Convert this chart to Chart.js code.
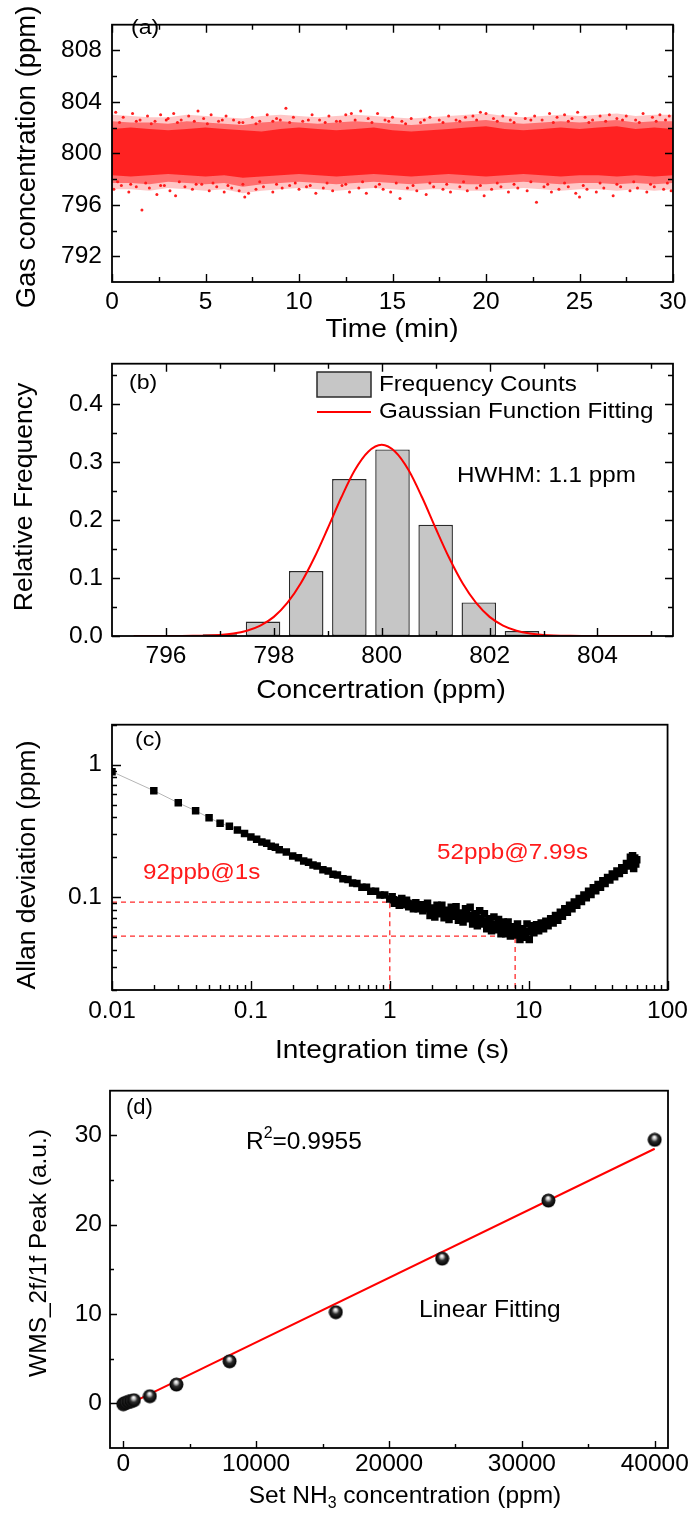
<!DOCTYPE html>
<html><head><meta charset="utf-8">
<script src="https://cdn.jsdelivr.net/npm/chart.js@4.4.1/dist/chart.umd.min.js"></script>
<style>
html,body{margin:0;padding:0;background:#fff;}
body{width:695px;height:1517px;position:relative;overflow:hidden;}
canvas{position:absolute;left:0;}
#err{position:absolute;left:0;top:0;color:#00f;font:12px monospace;z-index:9;}
</style></head><body>
<canvas id="ca" width="695" height="345" style="top:0px"></canvas>
<canvas id="cb" width="695" height="365" style="top:340px"></canvas>
<canvas id="cc" width="695" height="370" style="top:700px"></canvas>
<canvas id="cd" width="695" height="449" style="top:1068px"></canvas>
<div id="err"></div>
<script>
// ---------------- Panel (a): concentration vs time ----------------
const timeGrid = [0,1,2,3,4,5,6,7,8,9,10,11,12,13,14,15,16,17,18,19,20,21,22,23,24,25,26,27,28,29,30];
const coreUpper = [801.9,802.0,801.9,801.8,801.9,802.0,801.9,801.8,801.7,801.9,802.0,801.9,801.8,801.9,802.0,801.8,801.7,801.8,801.9,802.0,802.1,801.9,801.8,801.9,802.0,801.9,802.0,802.1,801.9,802.0,801.9];
const coreLower = [798.3,798.2,798.3,798.4,798.3,798.2,798.3,798.1,798.2,798.3,798.4,798.3,798.2,798.3,798.4,798.3,798.2,798.3,798.4,798.3,798.2,798.3,798.4,798.3,798.2,798.3,798.3,798.2,798.3,798.2,798.3];
const spreadUpper = [802.5,802.4,802.4,802.3,802.5,802.4,802.3,802.2,802.4,802.5,802.4,802.3,802.4,802.5,802.4,802.3,802.2,802.3,802.4,802.5,802.6,802.4,802.3,802.4,802.5,802.4,802.5,802.6,802.4,802.5,802.5];
const spreadLower = [797.7,797.7,797.6,797.8,797.7,797.6,797.7,797.4,797.6,797.7,797.8,797.7,797.6,797.7,797.8,797.7,797.6,797.7,797.7,797.6,797.6,797.7,797.8,797.7,797.6,797.7,797.7,797.6,797.7,797.6,797.7];
const outerUpper = [803.0,802.9,802.8,802.8,803.0,802.9,802.8,802.7,802.9,803.0,802.9,802.8,802.9,803.0,802.9,802.8,802.7,802.8,802.9,803.0,803.1,802.9,802.8,802.9,803.0,802.9,803.0,803.1,802.9,803.0,803.0];
const outerLower = [797.2,797.2,797.1,797.3,797.2,797.1,797.2,796.9,797.1,797.2,797.3,797.2,797.1,797.2,797.3,797.2,797.1,797.2,797.2,797.1,797.1,797.2,797.3,797.2,797.1,797.2,797.2,797.1,797.2,797.1,797.2];
const outlierPts = [
 [0.2,803.2],[0.6,802.8],[1.1,803.1],[1.5,802.6],[1.9,802.9],[2.3,802.5],[2.6,803.0],[3.0,802.7],[3.3,803.1],[3.7,802.6],
 [4.1,802.9],[4.6,803.3],[4.9,802.7],[5.3,803.0],[5.7,802.5],[6.1,802.9],[6.5,802.6],[7.0,802.4],[7.5,802.8],[7.9,802.5],
 [8.3,803.0],[8.8,802.7],[9.0,802.6],[9.3,803.5],[9.7,802.8],[10.2,802.5],[10.7,803.0],[11.1,802.6],[11.6,802.9],[12.0,802.5],
 [12.5,803.0],[12.8,803.1],[13.3,803.3],[13.7,802.7],[14.2,803.1],[14.6,802.6],[15.0,802.8],[15.5,802.5],[16.0,802.7],[16.5,802.4],
 [17.0,802.8],[17.5,802.6],[18.0,802.9],[18.4,802.6],[18.9,802.8],[19.3,802.9],[19.7,803.2],[20.0,803.1],[20.4,802.7],[20.9,802.9],
 [21.3,802.6],[21.6,803.1],[22.1,802.7],[22.6,802.9],[23.0,802.6],[23.4,803.1],[23.8,802.8],[24.2,803.0],[24.6,802.7],[24.9,803.2],
 [25.3,802.8],[25.7,802.6],[26.1,802.9],[26.6,803.0],[27.0,802.7],[27.5,802.9],[28.0,802.6],[28.4,803.1],[28.9,802.8],[29.3,803.0],[29.8,802.9],
 [0.1,797.2],[0.5,797.5],[0.9,797.0],[1.3,797.4],[1.6,795.6],[2.0,797.3],[2.4,796.8],[2.8,797.5],[3.1,797.1],[3.4,796.7],
 [3.9,797.4],[4.3,797.2],[4.8,797.6],[5.2,797.1],[5.6,797.4],[6.0,797.0],[6.4,797.3],[6.8,797.1],[7.1,796.6],[7.3,796.9],
 [7.7,797.2],[8.1,797.4],[8.6,797.0],[9.1,797.3],[9.5,797.5],[10.0,797.2],[10.4,797.4],[10.9,796.9],[11.3,797.3],[11.8,797.1],
 [12.3,797.5],[12.7,797.0],[13.2,797.3],[13.6,796.9],[14.1,797.4],[14.5,797.2],[14.9,797.0],[15.4,796.5],[15.8,797.3],[16.3,797.1],
 [16.8,796.8],[17.2,797.4],[17.7,797.2],[18.1,797.0],[18.6,797.4],[19.0,797.1],[19.5,797.3],[19.9,796.7],[20.3,797.2],[20.8,797.4],
 [21.2,797.0],[21.7,797.3],[22.2,797.1],[22.7,796.2],[23.1,797.4],[23.5,797.0],[23.9,797.2],[24.4,797.4],[24.8,796.9],[25.0,796.6],
 [25.4,797.2],[25.9,797.0],[26.3,797.3],[26.8,796.7],[27.2,797.4],[27.7,797.1],[28.1,797.3],[28.6,797.0],[29.0,797.4],[29.5,797.2],[29.9,797.1]
];
const speckPts = [
 [0.4,802.4],[1.3,802.5],[2.1,802.3],[2.9,802.6],[3.5,802.4],[4.4,802.5],[5.1,802.3],[5.9,802.6],[6.8,802.4],[7.7,802.3],
 [8.6,802.5],[9.5,802.4],[10.5,802.6],[11.4,802.4],[12.2,802.5],[13.0,802.6],[13.9,802.4],[14.8,802.5],[15.7,802.3],[16.7,802.6],
 [17.7,802.4],[18.6,802.5],[19.5,802.6],[20.6,802.5],[21.5,802.4],[22.4,802.6],[23.6,802.4],[24.4,802.5],[25.5,802.4],[26.4,802.5],
 [27.3,802.6],[28.2,802.4],[29.1,802.5],[29.6,802.6],
 [0.3,797.8],[1.0,797.6],[1.8,797.7],[2.6,797.5],[3.6,797.8],[4.5,797.6],[5.4,797.7],[6.2,797.5],[7.0,797.6],[7.9,797.8],
 [8.8,797.6],[9.8,797.7],[10.6,797.5],[11.5,797.7],[12.5,797.6],[13.4,797.8],[14.3,797.6],[15.2,797.7],[16.1,797.5],[17.0,797.7],
 [17.9,797.6],[18.8,797.8],[19.7,797.5],[20.6,797.7],[21.5,797.6],[22.4,797.8],[23.3,797.6],[24.2,797.7],[25.2,797.5],[26.1,797.7],
 [27.0,797.6],[27.9,797.8],[28.8,797.6],[29.7,797.7]
];
const aXTicks = [0,5,10,15,20,25,30];
const aXMinor = [2.5,7.5,12.5,17.5,22.5,27.5];
const aYTicks = [792,796,800,804,808];
const aYMinor = [794,798,802,806];

// ---------------- Panel (b): histogram ----------------
const binCenters = [797.0,797.8,798.6,799.4,800.2,801.0,801.8,802.6];
const relFreq    = [0.003,0.025,0.112,0.271,0.322,0.192,0.058,0.0085];
const gaussX = [795.4,796.0,796.5,797.0,797.25,797.5,797.75,798.0,798.25,798.5,798.75,799.0,799.25,799.5,799.75,800.0,800.25,800.5,800.75,801.0,801.25,801.5,801.75,802.0,802.25,802.5,802.75,803.0,803.5,804.0,804.5,805.0];
const gaussY = [0,0,0.0003,0.0019,0.0043,0.0092,0.018,0.033,0.057,0.091,0.135,0.186,0.239,0.286,0.318,0.330,0.318,0.286,0.239,0.186,0.135,0.091,0.057,0.033,0.018,0.0092,0.0043,0.0019,0.0003,0,0,0];
const bXTicks = [796,798,800,802,804];
const bXMinor = [797,799,801,803,805];
const bYTicks = [0,0.1,0.2,0.3,0.4];
const bYMinor = [0.05,0.15,0.25,0.35,0.45];

// ---------------- Panel (c): Allan deviation ----------------
const allanPts = [
 [0.01,0.885],[0.02,0.636],[0.03,0.515],[0.04,0.449],[0.05,0.398],[0.06,0.362],[0.07,0.343],[0.08,0.322],[0.09,0.302],
 [0.10,0.285],[0.11,0.274],[0.12,0.261],[0.13,0.255],[0.14,0.243],[0.15,0.238],[0.16,0.228],[0.18,0.219],[0.20,0.205],[0.22,0.199],
 [0.24,0.188],[0.26,0.184],[0.28,0.175],[0.30,0.172],[0.33,0.161],[0.36,0.158],[0.39,0.149],[0.42,0.147],[0.46,0.138],[0.50,0.136],
 [0.54,0.128],[0.58,0.127],[0.63,0.119],[0.68,0.119],[0.73,0.111],[0.79,0.111],[0.85,0.104],[0.92,0.104],[1.00,0.097],
 [1.04,0.101],[1.06,0.096],[1.08,0.090],[1.10,0.095],[1.12,0.094],[1.15,0.091],[1.17,0.087],[1.20,0.093],[1.22,0.098],[1.25,0.092],
 [1.27,0.088],[1.30,0.091],[1.32,0.095],[1.35,0.090],[1.37,0.085],[1.40,0.089],[1.42,0.088],[1.45,0.086],[1.48,0.082],[1.51,0.087],
 [1.54,0.091],[1.57,0.086],[1.60,0.082],[1.63,0.085],[1.67,0.088],[1.70,0.083],[1.73,0.079],[1.76,0.084],[1.80,0.083],[1.83,0.086],
 [1.87,0.090],[1.91,0.082],[1.95,0.073],[1.99,0.080],[2.03,0.083],[2.07,0.079],[2.11,0.071],[2.15,0.081],[2.19,0.087],[2.23,0.078],
 [2.28,0.075],[2.32,0.080],[2.37,0.087],[2.41,0.077],[2.46,0.070],[2.51,0.078],[2.56,0.080],[2.62,0.075],[2.67,0.068],[2.72,0.077],
 [2.77,0.084],[2.82,0.074],[2.88,0.072],[2.94,0.077],[3.00,0.085],[3.06,0.074],[3.12,0.067],[3.18,0.073],[3.24,0.076],[3.30,0.075],
 [3.37,0.065],[3.44,0.072],[3.51,0.082],[3.58,0.074],[3.65,0.069],[3.72,0.071],[3.79,0.084],[3.87,0.073],[3.95,0.063],[4.02,0.069],
 [4.10,0.075],[4.18,0.070],[4.27,0.061],[4.35,0.068],[4.44,0.079],[4.53,0.069],[4.62,0.063],[4.71,0.066],[4.80,0.075],[4.89,0.066],
 [4.99,0.058],[5.09,0.064],[5.19,0.069],[5.29,0.063],[5.40,0.056],[5.51,0.062],[5.62,0.071],[5.73,0.062],[5.84,0.057],[5.95,0.061],
 [6.07,0.068],[6.19,0.060],[6.32,0.053],[6.44,0.059],[6.57,0.065],[6.70,0.058],[6.83,0.053],[6.97,0.058],[7.11,0.065],[7.25,0.057],
 [7.39,0.051],[7.54,0.056],[7.69,0.060],[7.84,0.056],[7.99,0.052],[8.15,0.056],[8.31,0.063],[8.48,0.055],[8.65,0.048],[8.82,0.054],
 [9.00,0.058],[9.18,0.055],[9.36,0.050],[9.54,0.054],[9.73,0.063],[9.92,0.055],[10.1,0.048],
 [10.5,0.061],[10.9,0.054],[11.4,0.062],[11.8,0.056],[12.3,0.064],[12.8,0.058],[13.3,0.066],[13.8,0.061],[14.4,0.069],[15.0,0.064],
 [15.6,0.073],[16.2,0.067],[16.9,0.077],[17.5,0.072],[18.2,0.082],[19.0,0.077],[19.7,0.087],[20.5,0.082],[21.3,0.092],[22.2,0.087],
 [23.1,0.098],[24.0,0.093],[25.0,0.104],[26.0,0.099],[27.0,0.111],[28.1,0.105],[29.2,0.118],[30.4,0.112],[31.6,0.125],[32.9,0.119],
 [34.2,0.133],[35.5,0.127],[37.0,0.141],[38.4,0.135],[40.0,0.150],[41.6,0.143],[43.2,0.158],[45.0,0.151],[46.8,0.167],[48.6,0.160],
 [50.6,0.180],[52.6,0.172],[54.0,0.200],[55.0,0.188],[56.0,0.206],[57.0,0.165],[58.0,0.198],[59.0,0.178],[60.0,0.192]
];
const mark1 = {tau: 1, dev: 0.092};
const mark2 = {tau: 7.99, dev: 0.051};
const cXTicks = [0.01,0.1,1,10,100];
const cYTicks = [0.1,1];
const cXMinor = [0.02,0.03,0.04,0.05,0.06,0.07,0.08,0.09,0.2,0.3,0.4,0.5,0.6,0.7,0.8,0.9,2,3,4,5,6,7,8,9,20,30,40,50,60,70,80,90];
const cYMinor = [0.02,0.03,0.04,0.05,0.06,0.07,0.08,0.09,0.2,0.3,0.4,0.5,0.6,0.7,0.8,0.9,2];

// ---------------- Panel (d): calibration ----------------
const setConc  = [0,100,200,400,600,800,2000,4000,8000,16000,24000,32000,40000];
const peakWMS  = [-0.1,0.0,0.05,0.15,0.25,0.35,0.8,2.1,4.7,10.2,16.2,22.7,29.5];
const fitConc  = [0,40000];
const fitPeak  = [-0.4,28.5];
const dXTicks = [0,10000,20000,30000,40000];
const dXMinor = [5000,15000,25000,35000];
const dYTicks = [0,10,20,30];
const dYMinor = [5,15,25];

// ---------------- helpers ----------------
const FONT = '"Liberation Sans", Arial, Helvetica, sans-serif';
const pts = (xs, ys) => xs.map((x, i) => ({x: x, y: ys[i]}));
const pairPts = arr => arr.map(p => ({x: p[0], y: p[1]}));

function report(e) { document.getElementById('err').textContent += ' ' + (e && e.message ? e.message : e); }

function axis(type, min, max, labels, fmt, size, pad, boxSize, horizontal) {
  return {
    type: type, min: min, max: max, bounds: 'data', offset: false,
    grid: {display: false, drawTicks: false},
    border: {display: false},
    ticks: {autoSkip: false, maxRotation: 0, minRotation: 0, padding: pad, color: '#000',
      font: {family: FONT, size: size}, callback: fmt},
    afterBuildTicks: function (s) { s.ticks = labels.map(v => ({value: v})); },
    afterFit: function (s) { if (horizontal) { s.height = boxSize; } else { s.width = boxSize; } }
  };
}

function drawFrame(chart, fr) {
  const ctx = chart.ctx;
  const a = chart.chartArea;
  ctx.save();
  ctx.strokeStyle = '#000';
  ctx.lineWidth = 1.4;
  for (const spec of fr.specs) {
    const s = chart.scales[spec.axis];
    const lo = Math.min(s.min, s.max);
    const hi = Math.max(s.min, s.max);
    const groups = [[spec.major, fr.majorLen], [spec.minor, fr.minorLen]];
    for (const g of groups) {
      const vals = g[0], len = g[1];
      ctx.beginPath();
      for (const v of vals) {
        if (v < lo || v > hi) continue;
        const p = Math.round(s.getPixelForValue(v)) + 0.5;
        for (const side of spec.sides) {
          if (side === 'bottom') { ctx.moveTo(p, a.bottom); ctx.lineTo(p, a.bottom - len); }
          if (side === 'top') { ctx.moveTo(p, a.top); ctx.lineTo(p, a.top + len); }
          if (side === 'left') { ctx.moveTo(a.left, p); ctx.lineTo(a.left + len, p); }
          if (side === 'right') { ctx.moveTo(a.right, p); ctx.lineTo(a.right - len, p); }
        }
      }
      ctx.stroke();
    }
  }
  ctx.lineWidth = 1.8;
  ctx.strokeRect(a.left, a.top, a.right - a.left, a.bottom - a.top);
  ctx.restore();
}

function drawRich(ctx, t) {
  const segs = t.segs || [{s: t.text}];
  ctx.save();
  ctx.translate(t.x, t.y);
  if (t.rot) ctx.rotate(t.rot);
  ctx.scale(t.sx || 1, 1);
  ctx.fillStyle = t.color || '#000';
  ctx.textBaseline = 'middle';
  ctx.textAlign = 'left';
  const fontOf = sg => ((sg.sub || sg.sup) ? t.size * 0.65 : t.size) + 'px ' + FONT;
  let total = 0;
  const ws = segs.map(sg => { ctx.font = fontOf(sg); const w = ctx.measureText(sg.s).width; total += w; return w; });
  let x = t.align === 'center' ? -total / 2 : 0;
  segs.forEach((sg, i) => {
    ctx.font = fontOf(sg);
    const dy = sg.sup ? -t.size * 0.33 : (sg.sub ? t.size * 0.32 : 0);
    ctx.fillText(sg.s, x, dy);
    x += ws[i];
  });
  ctx.restore();
}

function decorPlugin(fr, items, extra) {
  return {
    id: 'decor',
    afterDraw: function (chart) {
      try {
        drawFrame(chart, fr);
        if (extra) extra(chart.ctx);
        items.forEach(t => drawRich(chart.ctx, t));
      } catch (e) { report(e); }
    }
  };
}

const base = (padding) => ({
  responsive: false, animation: false, devicePixelRatio: 1, events: [],
  layout: {padding: padding},
  plugins: {legend: {display: false}, tooltip: {enabled: false}}
});

const TICK = 24.5;
const V = -Math.PI / 2;
const clear = 'rgba(0,0,0,0)';

try {
// ---------------- Chart (a) ----------------
new Chart(document.getElementById('ca'), {
  type: 'line',
  data: {datasets: [
    {data: pts(timeGrid, outerUpper), borderColor: clear, pointRadius: 0, fill: '+1', backgroundColor: 'rgba(255,40,40,0.26)'},
    {data: pts(timeGrid, outerLower), borderColor: clear, pointRadius: 0, fill: false},
    {data: pts(timeGrid, spreadUpper), borderColor: clear, pointRadius: 0, fill: '+1', backgroundColor: 'rgba(255,35,35,0.55)'},
    {data: pts(timeGrid, spreadLower), borderColor: clear, pointRadius: 0, fill: false},
    {data: pts(timeGrid, coreUpper), borderColor: clear, pointRadius: 0, fill: '+1', backgroundColor: '#ff2020'},
    {data: pts(timeGrid, coreLower), borderColor: clear, pointRadius: 0, fill: false},
    {data: pairPts(speckPts), showLine: false, pointRadius: 1.5, pointBackgroundColor: '#ff1010', pointBorderWidth: 0},
    {data: pairPts(outlierPts), showLine: false, pointRadius: 1.5, pointBackgroundColor: '#ff2020', pointBorderWidth: 0}
  ]},
  options: Object.assign(base({top: 5, right: 22, left: 0, bottom: 0}), {
    scales: {
      x: axis('linear', 0, 30, aXTicks, v => String(v), TICK, 6, 63, true),
      y: axis('linear', 790, 810, aYTicks, v => String(v), TICK, 10, 112, false)
    }
  }),
  plugins: [decorPlugin({majorLen: 8, minorLen: 5, specs: [
      {axis: 'x', sides: ['bottom', 'top'], major: aXTicks, minor: aXMinor},
      {axis: 'y', sides: ['left', 'right'], major: aYTicks, minor: aYMinor}]},
    [
      {text: '(a)', x: 131, y: 28, size: 21, sx: 1.1},
      {text: 'Time (min)', x: 392, y: 330, size: 26, sx: 1.08, align: 'center'},
      {text: 'Gas concentration (ppm)', x: 27, y: 157, size: 27.5, rot: V, align: 'center'}
    ])]
});

// ---------------- Chart (b) ----------------
new Chart(document.getElementById('cb'), {
  type: 'bar',
  data: {datasets: [
    {type: 'line', data: pts(gaussX, gaussY), borderColor: '#ff0000', borderWidth: 2, pointRadius: 0, cubicInterpolationMode: 'monotone', fill: false, order: 0},
    {type: 'bar', data: pts(binCenters, relFreq), backgroundColor: '#c6c6c6', borderColor: '#2a2a2a', borderWidth: 1.4, borderSkipped: false, categoryPercentage: 1, barPercentage: 0.8, order: 1}
  ]},
  options: Object.assign(base({top: 20, right: 22, left: 0, bottom: 0}), {
    scales: {
      x: axis('linear', 795, 805.4, bXTicks, v => String(v), TICK, 6, 69, true),
      y: axis('linear', 0, 0.47, bYTicks, v => v.toFixed(1), TICK, 9, 112, false)
    }
  }),
  plugins: [decorPlugin({majorLen: 8, minorLen: 5, specs: [
      {axis: 'x', sides: ['bottom', 'top'], major: bXTicks, minor: bXMinor},
      {axis: 'y', sides: ['left', 'right'], major: bYTicks, minor: bYMinor}]},
    [
      {text: '(b)', x: 129, y: 43, size: 21, sx: 1.1},
      {text: 'Frequency Counts', x: 379, y: 45, size: 22, sx: 1.1},
      {text: 'Gaussian Function Fitting', x: 379, y: 72, size: 22, sx: 1.1},
      {text: 'HWHM: 1.1 ppm', x: 457, y: 136, size: 22, sx: 1.1},
      {text: 'Concertration (ppm)', x: 381, y: 351, size: 26, sx: 1.08, align: 'center'},
      {text: 'Relative Frequency', x: 25, y: 157, size: 26.5, rot: V, align: 'center'}
    ], ctx => {
      ctx.save();
      ctx.fillStyle = '#c6c6c6'; ctx.fillRect(317, 32, 54, 25);
      ctx.strokeStyle = '#2a2a2a'; ctx.lineWidth = 1.5; ctx.strokeRect(317, 32, 54, 25);
      ctx.strokeStyle = '#ff0000'; ctx.lineWidth = 2;
      ctx.beginPath(); ctx.moveTo(317, 72); ctx.lineTo(371, 72); ctx.stroke();
      ctx.restore();
    })]
});

// ---------------- Chart (c) ----------------
new Chart(document.getElementById('cc'), {
  type: 'line',
  data: {datasets: [
    {data: pairPts(allanPts), borderColor: '#b5b5b5', borderWidth: 1, pointStyle: 'rect', pointRadius: 5.3,
     pointBackgroundColor: '#000', pointBorderWidth: 0, order: 0},
    {data: pairPts([[0.01, mark1.dev], [mark1.tau, mark1.dev], [mark1.tau, 0.02]]), borderColor: '#ff2a2a', borderWidth: 1.3, borderDash: [5, 4], pointRadius: 0, order: 1},
    {data: pairPts([[0.01, mark2.dev], [mark2.tau, mark2.dev], [mark2.tau, 0.02]]), borderColor: '#ff2a2a', borderWidth: 1.3, borderDash: [5, 4], pointRadius: 0, order: 1}
  ]},
  options: Object.assign(base({top: 14, right: 22, left: 0, bottom: 0}), {
    scales: {
      x: axis('logarithmic', 0.01, 100, cXTicks, v => String(v), TICK, 7, 80, true),
      y: axis('logarithmic', 0.02, 2, cYTicks, v => String(v), TICK, 10, 112, false)
    }
  }),
  plugins: [decorPlugin({majorLen: 9, minorLen: 5, specs: [
      {axis: 'x', sides: ['bottom'], major: cXTicks, minor: cXMinor},
      {axis: 'y', sides: ['left'], major: cYTicks, minor: cYMinor}]},
    [
      {text: '(c)', x: 135, y: 40, size: 21, sx: 1.1},
      {text: '92ppb@1s', x: 143, y: 173, size: 22, sx: 1.1, color: '#ff1a1a'},
      {text: '52ppb@7.99s', x: 437, y: 153, size: 22, sx: 1.1, color: '#ff1a1a'},
      {text: 'Integration time (s)', x: 392, y: 351, size: 26, sx: 1.08, align: 'center'},
      {text: 'Allan deviation (ppm)', x: 28, y: 165, size: 26.5, rot: V, align: 'center'}
    ])]
});

// ---------------- Chart (d) ----------------
function makeSphere(d) {
  const c = document.createElement('canvas'); c.width = d; c.height = d;
  const g = c.getContext('2d');
  const r = d / 2;
  const grad = g.createRadialGradient(r * 0.95, r * 0.62, r * 0.05, r, r, r);
  grad.addColorStop(0, '#ffffff');
  grad.addColorStop(0.2, '#bdbdbd');
  grad.addColorStop(0.45, '#2c2c2c');
  grad.addColorStop(0.85, '#050505');
  grad.addColorStop(1, '#333');
  g.fillStyle = grad; g.beginPath(); g.arc(r, r, r - 0.5, 0, Math.PI * 2); g.fill();
  return c;
}
const sphere = makeSphere(15);
new Chart(document.getElementById('cd'), {
  type: 'line',
  data: {datasets: [
    {data: pts(fitConc, fitPeak), borderColor: '#ff0000', borderWidth: 2, pointRadius: 0, order: 1},
    {data: pts(setConc, peakWMS), showLine: false, pointStyle: sphere, pointRadius: 7, order: 0}
  ]},
  options: Object.assign(base({top: 12, right: 27, left: 0, bottom: 0}), {
    scales: {
      x: axis('linear', -1000, 41000, dXTicks, v => String(v), 24.5, 2, 69, true),
      y: axis('linear', -5, 35, dYTicks, v => String(v), 24.5, 8, 110, false)
    }
  }),
  plugins: [decorPlugin({majorLen: 7, minorLen: 4, specs: [
      {axis: 'x', sides: ['bottom'], major: dXTicks, minor: dXMinor},
      {axis: 'y', sides: ['left'], major: dYTicks, minor: dYMinor}]},
    [
      {text: '(d)', x: 126, y: 40, size: 22},
      {segs: [{s: 'R'}, {s: '2', sup: true}, {s: '=0.9955'}], x: 246, y: 74, size: 24.5},
      {text: 'Linear Fitting', x: 419, y: 242, size: 24.5},
      {segs: [{s: 'Set NH'}, {s: '3', sub: true}, {s: ' concentration (ppm)'}], x: 405, y: 428, size: 24.5, align: 'center'},
      {text: 'WMS_2f/1f Peak (a.u.)', x: 39, y: 185, size: 24.5, rot: V, align: 'center'}
    ])]
});
} catch (e) { report(e); }
</script>
</body></html>
